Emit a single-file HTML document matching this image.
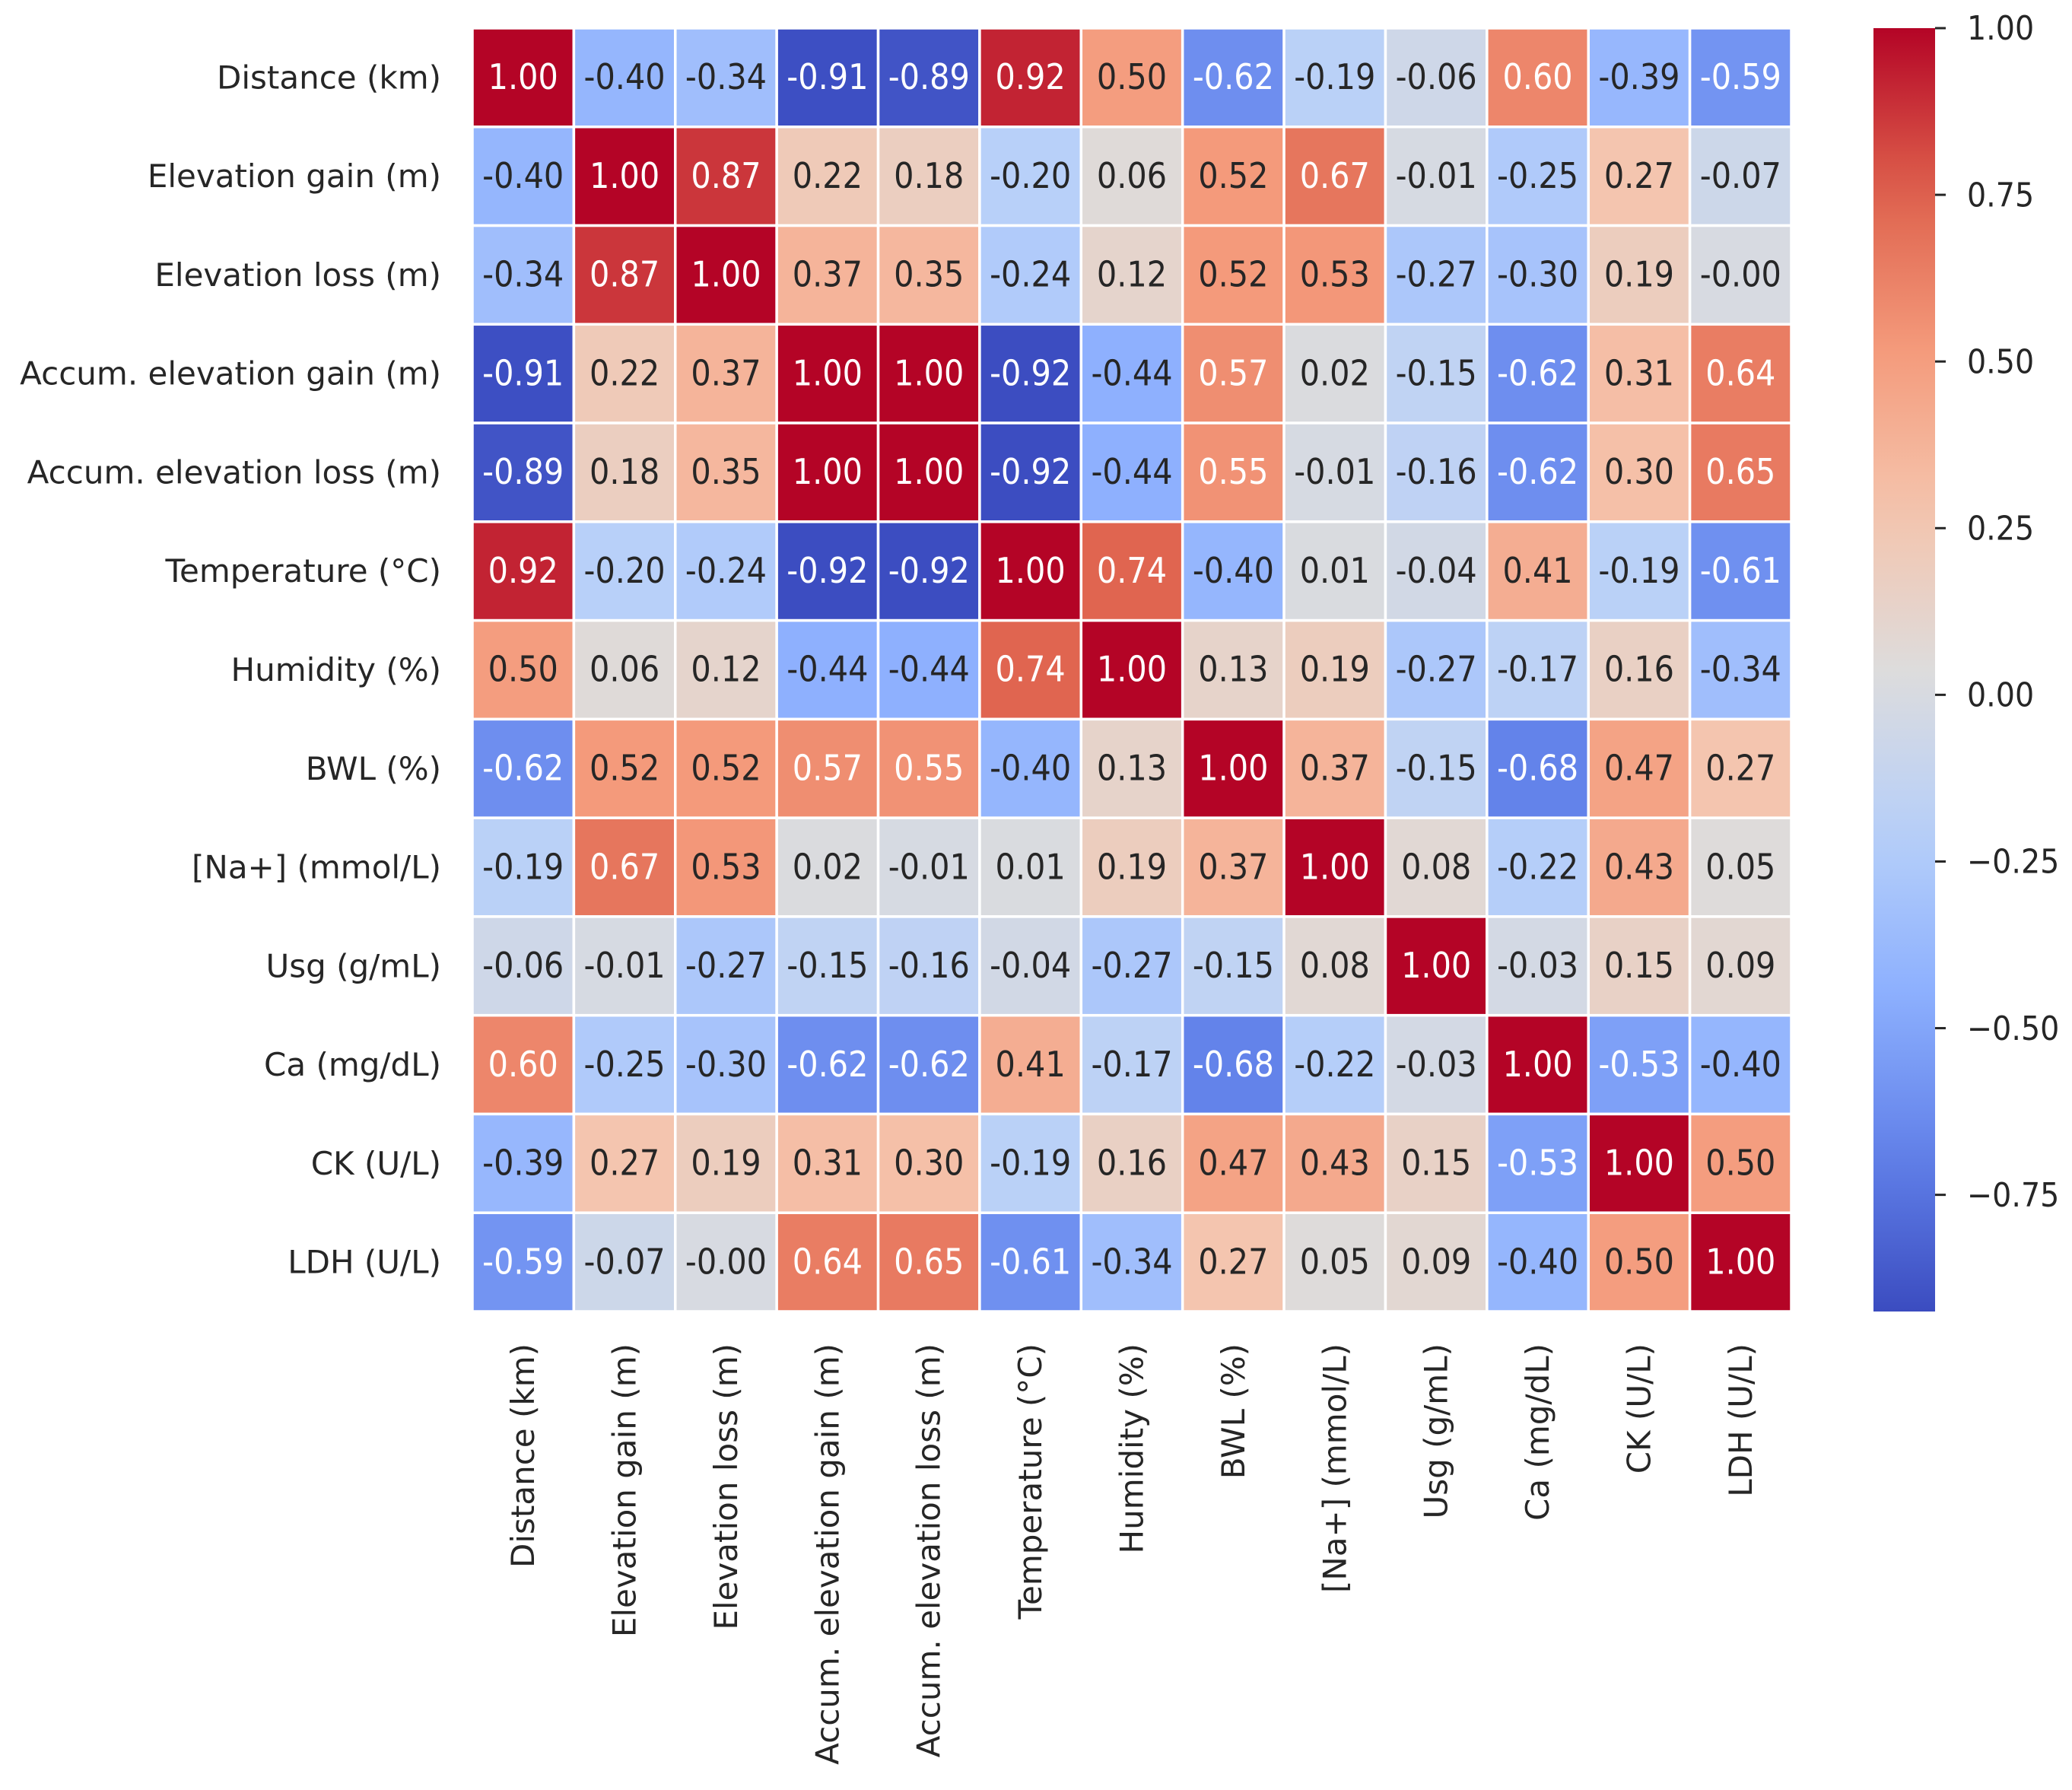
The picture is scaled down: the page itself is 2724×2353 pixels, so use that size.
<!DOCTYPE html>
<html><head><meta charset="utf-8"><style>
html,body{margin:0;padding:0;background:#fff;}
svg{display:block;font-family:"DejaVu Sans","Liberation Sans",sans-serif;}
</style></head><body>
<svg id="chart" width="2724" height="2353" viewBox="0 0 2724 2353" xmlns="http://www.w3.org/2000/svg">
<defs><linearGradient id="cbgrad" x1="0" y1="1" x2="0" y2="0"></linearGradient></defs>
<g id="cells"></g><g id="ylabels"></g><g id="xlabels"></g><g id="cbar"></g>
</svg>
<script>
const labels = ["Distance (km)","Elevation gain (m)","Elevation loss (m)","Accum. elevation gain (m)","Accum. elevation loss (m)","Temperature (°C)","Humidity (%)","BWL (%)","[Na+] (mmol/L)","Usg (g/mL)","Ca (mg/dL)","CK (U/L)","LDH (U/L)"];
const row0 = [1.00,-0.40,-0.34,-0.91,-0.89,0.92,0.50,-0.62,-0.19,-0.06,0.60,-0.39,-0.59];
const row1 = [-0.40,1.00,0.87,0.22,0.18,-0.20,0.06,0.52,0.67,-0.01,-0.25,0.27,-0.07];
const row2 = [-0.34,0.87,1.00,0.37,0.35,-0.24,0.12,0.52,0.53,-0.27,-0.30,0.19,-0.004];
const row3 = [-0.91,0.22,0.37,1.00,1.00,-0.92,-0.44,0.57,0.02,-0.15,-0.62,0.31,0.64];
const row4 = [-0.89,0.18,0.35,1.00,1.00,-0.92,-0.44,0.55,-0.01,-0.16,-0.62,0.30,0.65];
const row5 = [0.92,-0.20,-0.24,-0.92,-0.92,1.00,0.74,-0.40,0.01,-0.04,0.41,-0.19,-0.61];
const row6 = [0.50,0.06,0.12,-0.44,-0.44,0.74,1.00,0.13,0.19,-0.27,-0.17,0.16,-0.34];
const row7 = [-0.62,0.52,0.52,0.57,0.55,-0.40,0.13,1.00,0.37,-0.15,-0.68,0.47,0.27];
const row8 = [-0.19,0.67,0.53,0.02,-0.01,0.01,0.19,0.37,1.00,0.08,-0.22,0.43,0.05];
const row9 = [-0.06,-0.01,-0.27,-0.15,-0.16,-0.04,-0.27,-0.15,0.08,1.00,-0.03,0.15,0.09];
const row10 = [0.60,-0.25,-0.30,-0.62,-0.62,0.41,-0.17,-0.68,-0.22,-0.03,1.00,-0.53,-0.40];
const row11 = [-0.39,0.27,0.19,0.31,0.30,-0.19,0.16,0.47,0.43,0.15,-0.53,1.00,0.50];
const row12 = [-0.59,-0.07,-0.004,0.64,0.65,-0.61,-0.34,0.27,0.05,0.09,-0.40,0.50,1.00];
const matrix = [row0,row1,row2,row3,row4,row5,row6,row7,row8,row9,row10,row11,row12];
const cbTicks = [1.00,0.75,0.50,0.25,0.00,-0.25,-0.50,-0.75];
const vmin = -0.925, vmax = 1.0;

const NS="http://www.w3.org/2000/svg";
const X0=621,X1=2355,Y0=37,Y1=1724;
const n=labels.length, cw=(X1-X0)/n, ch=(Y1-Y0)/n;
const stops=[[0,[59,76,192]],[0.125,[98,130,234]],[0.25,[141,176,254]],[0.375,[184,208,249]],[0.5,[221,220,220]],[0.625,[245,196,173]],[0.75,[244,154,123]],[0.875,[222,96,76]],[1,[180,4,38]]];
function cmap(t){t=Math.max(0,Math.min(1,t));for(let i=1;i<stops.length;i++){if(t<=stops[i][0]){const a=stops[i-1],b=stops[i];const f=(t-a[0])/(b[0]-a[0]);return a[1].map((c,k)=>Math.round(c+(b[1][k]-c)*f));}}return stops[stops.length-1][1];}
function norm(v){return (v-vmin)/(vmax-vmin);}
function lum(c){const l=c.map(x=>{x/=255;return x<=0.03928?x/12.92:Math.pow((x+0.055)/1.055,2.4);});return 0.2126*l[0]+0.7152*l[1]+0.0722*l[2];}
function mk(tag,attrs,parent){const e=document.createElementNS(NS,tag);for(const k in attrs)e.setAttribute(k,attrs[k]);parent.appendChild(e);return e;}
const gC=document.getElementById('cells'),gY=document.getElementById('ylabels'),gX=document.getElementById('xlabels'),gB=document.getElementById('cbar');
for(let r=0;r<n;r++){for(let c=0;c<n;c++){
  const v=matrix[r][c],col=cmap(norm(v));
  const rect=mk('rect',{x:X0+c*cw,y:Y0+r*ch,width:cw,height:ch,fill:`rgb(${col})`,stroke:'#fff','stroke-width':3.5},gC);
  
  
  const cx=X0+(c+0.5)*cw, cy0=Y0+(r+0.5)*ch;
  const t=mk('text',{x:0,y:0,transform:`translate(${cx},${cy0}) scale(0.9,1)`,'text-anchor':'middle','dominant-baseline':'central','font-size':46,fill:lum(col)>0.408?'#262626':'#ffffff'},gC);
  t.textContent=v.toFixed(2);
  
  
}}
labels.forEach((l,i)=>{
  const t=mk('text',{x:580,y:Y0+(i+0.5)*ch,'text-anchor':'end','dominant-baseline':'central','font-size':42,fill:'#262626'},gY);
  t.textContent=l;
  
  
  const cx=X0+(i+0.5)*cw;
  const tx=mk('text',{x:0,y:0,transform:`translate(${cx},1766) rotate(-90)`,'text-anchor':'end','dominant-baseline':'central','font-size':42,fill:'#262626'},gX);
  tx.textContent=l;
  
  
});
const CX0=2463,CX1=2544,CY0=37,CY1=1724;
const grad=document.getElementById('cbgrad');
for(let i=0;i<=20;i++){const t=i/20;mk('stop',{offset:t,'stop-color':`rgb(${cmap(t)})`},grad);}
const cb=mk('rect',{x:CX0,y:CY0,width:CX1-CX0,height:CY1-CY0,fill:'url(#cbgrad)'},gB);


function cy(v){return CY1-(v-vmin)/(vmax-vmin)*(CY1-CY0);}
cbTicks.forEach(v=>{
  const y=cy(v);
  const tk=mk('line',{x1:CX1,x2:CX1+14,y1:y,y2:y,stroke:'#262626','stroke-width':3},gB);
  
  
  const t=mk('text',{x:0,y:0,transform:`translate(2586,${y}) scale(0.9,1)`,'dominant-baseline':'central','font-size':44,fill:'#262626'},gB);
  t.textContent=(v<0?'\u2212':'')+Math.abs(v).toFixed(2);
  
  
});
</script>
</body></html>
